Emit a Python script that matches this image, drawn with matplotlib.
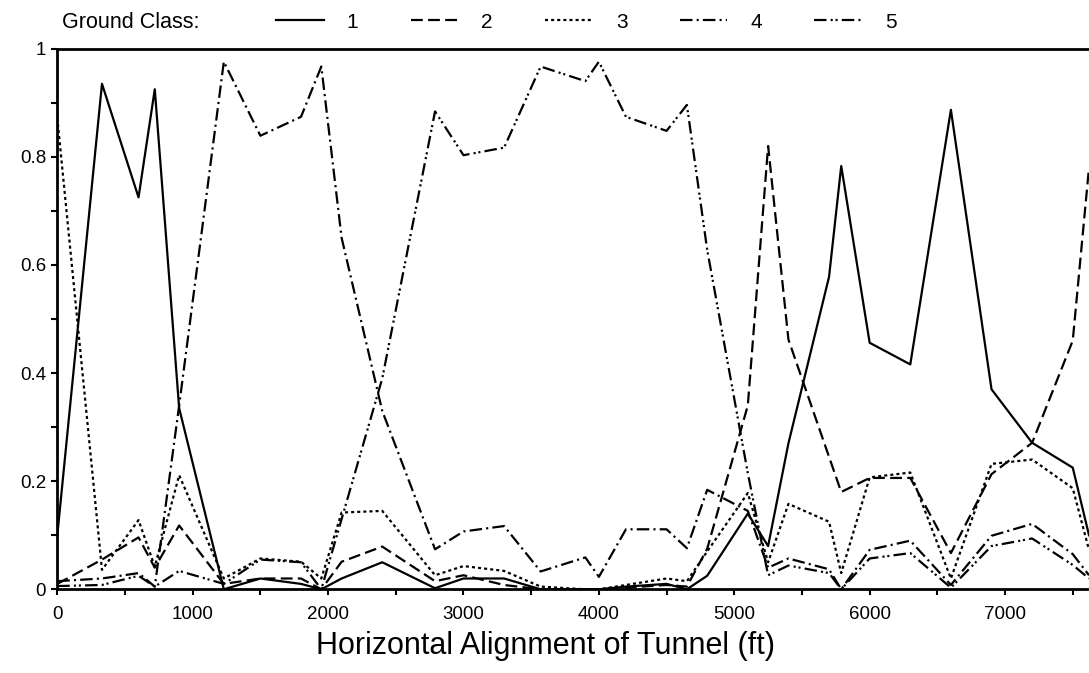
import numpy as np
import matplotlib

matplotlib.use("Agg")
import matplotlib.pyplot as plt

plt.rcParams["font.family"] = ["Liberation Sans", "DejaVu Sans"]
plt.rcParams["lines.scale_dashes"] = False

# station along the tunnel (ft)
x_ft = [0, 330, 600, 720, 900, 1230, 1500, 1800, 1950, 2100, 2400, 2790, 3000,
        3300, 3570, 3900, 4000, 4200, 4500, 4650, 4800, 5100, 5250, 5400, 5700,
        5790, 6000, 6300, 6600, 6900, 7200, 7500, 7620]

# probability of each ground class
gc1 = [0.10, 0.935, 0.725, 0.925, 0.335, 0.0, 0.02, 0.01, 0.0, 0.02, 0.05, 0.002, 0.02,
       0.02, 0.0, 0.0, 0.0, 0.005, 0.01, 0.0, 0.025, 0.14, 0.08, 0.27, 0.578,
       0.783, 0.456, 0.416, 0.887, 0.37, 0.271, 0.225, 0.10]
gc2 = [0.01, 0.055, 0.096, 0.04, 0.118, 0.01, 0.02, 0.02, 0.0, 0.051, 0.079, 0.015, 0.026,
       0.008, 0.0, 0.0, 0.0, 0.003, 0.008, 0.005, 0.075, 0.34, 0.82, 0.462, 0.245,
       0.18, 0.206, 0.206, 0.067, 0.213, 0.271, 0.46, 0.78]
gc3 = [0.872, 0.036, 0.128, 0.042, 0.211, 0.02, 0.057, 0.051, 0.02, 0.142, 0.145, 0.026, 0.043,
       0.034, 0.005, 0.0, 0.0, 0.008, 0.02, 0.015, 0.07, 0.178, 0.05, 0.158, 0.125,
       0.03, 0.207, 0.216, 0.02, 0.232, 0.24, 0.187, 0.073]
gc4 = [0.015, 0.02, 0.03, 0.005, 0.34, 0.976, 0.839, 0.874, 0.967, 0.65, 0.33, 0.074, 0.107,
       0.117, 0.033, 0.059, 0.023, 0.111, 0.111, 0.076, 0.184, 0.145, 0.04, 0.057, 0.037,
       0.0, 0.073, 0.09, 0.008, 0.099, 0.121, 0.065, 0.026]
gc5 = [0.006, 0.008, 0.025, 0.005, 0.034, 0.01, 0.055, 0.05, 0.0, 0.13, 0.39, 0.884, 0.803,
       0.817, 0.967, 0.94, 0.976, 0.874, 0.848, 0.896, 0.628, 0.215, 0.026, 0.044, 0.03,
       0.0, 0.057, 0.067, 0.003, 0.08, 0.094, 0.045, 0.02]

labels = ["1", "2", "3", "4", "5"]
dashes = [(None, None), (8.5, 3.8), (2.2, 2.2), (9, 3, 1.5, 3), (9, 3, 1.5, 2, 1.5, 3)]

W, H = 1089, 673
fig = plt.figure(figsize=(W / 100, H / 100), dpi=100)
ax = fig.add_axes([57.3 / W, (H - 589.3) / H, 1031.7 / W, 540.6 / H])

for ys, lab, d in zip([gc1, gc2, gc3, gc4, gc5], labels, dashes):
    line, = ax.plot(x_ft, ys, color="black", lw=1.6, label=lab)
    if d[0] is not None:
        line.set_dashes(d)

ax.set_xlim(0, 7620)
ax.set_ylim(0, 1)
ax.set_xticks(np.arange(0, 7001, 1000))
ax.set_xticks(np.arange(500, 7620, 1000), minor=True)
ax.set_yticks([0, 0.2, 0.4, 0.6, 0.8, 1.0])
ax.set_yticklabels(["0", "0.2", "0.4", "0.6", "0.8", "1"])
ax.set_yticks(np.arange(0.1, 1.0, 0.2), minor=True)
ax.tick_params(which="both", direction="out", length=4, width=1.5, labelsize=13.5, pad=4)
ax.tick_params(axis="x", pad=8)
ax.spines["right"].set_visible(False)
for s in ["left", "bottom", "top"]:
    ax.spines[s].set_linewidth(2)
ax.set_xlabel("Horizontal Alignment of Tunnel (ft)", fontsize=22)
ax.xaxis.set_label_coords((545 - 57.3) / 1031.7, -0.077)

fig.text(62 / W, (H - 22) / H, "Ground Class:", fontsize=15.5, va="center", ha="left")
ax.legend(loc="center left", bbox_to_anchor=(276 / W, (H - 22) / H),
          bbox_transform=fig.transFigure, ncol=5, frameon=False, fontsize=15,
          handlelength=2.3, handletextpad=1.1, columnspacing=2.5,
          borderpad=0, borderaxespad=0)

fig.savefig("out.png", dpi=100)
